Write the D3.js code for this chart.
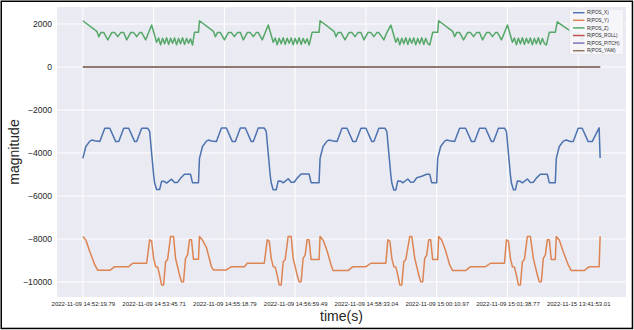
<!DOCTYPE html>
<html>
<head>
<meta charset="utf-8">
<script src="https://cdn.jsdelivr.net/npm/d3@7/dist/d3.min.js"></script>
<style>
  html, body { margin: 0; padding: 0; background: #fff; }
  svg { display: block; font-family: "Liberation Sans", Arial, sans-serif; }
</style>
</head>
<body>
<svg id="chart" width="634" height="330"></svg>
<script>
// Sample positions where each tick label sits, and the labels themselves
const tickIndex = [0, 71, 142, 213, 284, 355, 426, 497];
const tickLabels = [
  "2022-11-09 14:52:19.79", "2022-11-09 14:53:45.71", "2022-11-09 14:55:18.79",
  "2022-11-09 14:56:59.49", "2022-11-09 14:58:33.04", "2022-11-09 15:00:10.97",
  "2022-11-09 15:01:38.77", "2022-11-15 13:41:53.01"
];
const yTicks = [-10000, -8000, -6000, -4000, -2000, 0, 2000];
const lastSample = 519;

// R(POS_X): sample index / value
const posXIndex = [
  0,3,7,9,12,17,22,27,33,36,41,46,52,54,59,65,67,71,72,74,77,79,82,84,89,92,95,98,102,108,110,116,
  117,120,124,126,129,134,139,144,150,153,158,163,169,171,176,182,184,188,189,191,194,196,199,201,206,209,212,215,219,227,229,237,
  238,241,245,247,250,255,260,265,271,274,279,284,290,292,297,303,305,309,310,312,314,316,319,321,326,329,332,335,340,345,348,350,355,
  356,359,363,365,368,373,378,384,390,393,398,404,410,412,417,423,425,429,430,432,434,436,439,441,446,449,452,455,459,466,468,474,
  475,478,482,485,489,492,497,501,507,511,518,519
];
const posXValue = [
  -4250,-3700,-3450,-3400,-3430,-3470,-2850,-2850,-3470,-3470,-2850,-2850,-3470,-3470,-2850,-2850,-3000,-5020,-5400,-5700,-5700,-5320,-5330,-5400,-5220,-5370,-5370,-5180,-4990,-4990,-5380,-5380,
  -4250,-3700,-3450,-3400,-3440,-3470,-2840,-2840,-3470,-3470,-2840,-2840,-3470,-3470,-2840,-2840,-3000,-5050,-5400,-5710,-5710,-5300,-5320,-5390,-5200,-5360,-5360,-5170,-4980,-4980,-5380,-5380,
  -4250,-3700,-3450,-3400,-3430,-3470,-2850,-2850,-3470,-3470,-2850,-2850,-3470,-3470,-2850,-2850,-3000,-5030,-5400,-5720,-5720,-5300,-5310,-5390,-5210,-5360,-5350,-5150,-5080,-4990,-4990,-5380,-5380,
  -4250,-3700,-3450,-3400,-3430,-3470,-2850,-2850,-3470,-3470,-2850,-2850,-3470,-3470,-2850,-2850,-3000,-5030,-5400,-5710,-5710,-5300,-5320,-5390,-5210,-5370,-5360,-5170,-4990,-4990,-5380,-5380,
  -4250,-3700,-3450,-3400,-3470,-3470,-2850,-2850,-3470,-3470,-2830,-4230
];

// R(POS_Y)
const posYIndex = [
  0,3,7,12,15,27,32,46,50,64,67,69,71,73,75,77,79,81,83,85,88,91,93,95,97,99,101,103,105,107,109,111,116,
  117,120,124,129,131,144,149,162,165,182,185,187,189,191,193,195,197,199,201,203,206,209,211,213,215,217,219,221,223,225,227,229,237,
  238,241,245,249,251,266,271,284,289,304,306,308,310,312,314,316,318,320,322,324,328,330,333,335,337,339,341,343,345,347,349,351,356,
  357,360,364,368,371,384,389,404,409,423,425,427,429,431,433,435,437,439,441,443,446,449,452,454,456,458,460,462,464,466,468,470,474,
  475,478,482,487,490,503,508,518,519
];
const posYValue = [
  -7890,-8050,-8590,-9210,-9460,-9460,-9290,-9290,-9130,-9130,-8040,-8100,-8900,-9290,-9300,-9680,-10140,-10140,-9060,-8960,-7890,-7890,-8900,-9290,-9680,-9990,-9990,-8900,-8750,-8040,-8040,-8940,-8940,
  -7880,-8050,-8400,-9290,-9440,-9440,-9290,-9290,-9130,-9130,-8040,-8100,-8900,-9290,-9310,-9680,-10140,-10140,-9060,-8960,-7880,-7880,-8900,-9290,-9680,-9990,-9990,-8900,-8750,-8040,-8040,-8960,-8960,
  -7880,-8050,-8550,-9200,-9470,-9470,-9290,-9290,-9130,-9130,-8040,-8100,-8900,-9290,-9300,-9680,-10140,-10140,-9060,-8960,-7880,-7880,-8900,-9290,-9680,-9990,-9990,-8900,-8750,-8040,-8040,-8960,-8960,
  -7880,-8050,-8550,-9200,-9470,-9470,-9290,-9290,-9130,-9130,-8040,-8100,-8900,-9290,-9300,-9680,-10140,-10140,-9060,-8960,-7880,-7880,-8900,-9290,-9680,-9990,-9990,-8900,-8750,-8040,-8040,-8960,-8960,
  -7880,-8050,-8590,-9210,-9470,-9470,-9290,-9290,-7880
];

// R(POS_Z)
const posZIndex = [
  0,14,16,18,21,25,29,32,35,38,41,44,48,51,54,57,59,63,66,69,74,76,78,80,82,84,86,88,90,92,94,96,98,100,102,104,106,108,110,112,116,
  117,131,133,135,138,142,146,149,152,155,158,161,165,168,171,174,176,180,183,186,191,193,195,197,199,201,203,205,207,209,211,213,215,217,219,221,223,225,227,230,237,
  238,252,254,256,259,263,267,270,273,276,279,282,286,289,292,295,297,302,305,309,314,316,318,320,322,324,326,328,330,332,334,336,338,340,342,344,346,348,351,356,
  357,371,373,375,378,382,386,389,392,395,398,401,405,408,411,414,416,420,423,426,431,433,435,437,439,441,443,445,447,449,451,453,455,457,459,461,463,465,468,474,
  476,483,490,492,494,497,501,505,508,511,514,517,519
];
const posZValue = [
  2150,1660,1410,1600,1600,1260,1600,1600,1410,1600,1600,1260,1600,1600,1410,1600,1600,1260,1600,1950,1150,1350,1030,1340,1080,1360,1050,1340,1100,1350,1030,1330,1080,1360,1050,1330,1100,1310,1020,1610,1610,
  2150,1660,1410,1600,1600,1260,1600,1600,1410,1600,1600,1260,1600,1600,1410,1600,1600,1260,1600,1950,1150,1350,1030,1340,1080,1360,1050,1340,1100,1350,1030,1330,1080,1360,1050,1330,1100,1310,1020,1610,1610,
  2150,1660,1410,1600,1600,1260,1600,1600,1410,1600,1600,1260,1600,1600,1410,1600,1600,1260,1600,1950,1150,1350,1030,1340,1080,1360,1050,1340,1100,1350,1030,1330,1080,1360,1050,1330,1100,1020,1610,1610,
  2150,1660,1410,1600,1600,1260,1600,1600,1410,1600,1600,1260,1600,1600,1410,1600,1600,1260,1600,1950,1150,1350,1030,1340,1080,1360,1050,1340,1100,1350,1030,1330,1080,1360,1050,1330,1100,1020,1610,1610,
  2100,1870,1660,1410,1600,1600,1260,1600,1600,1410,1600,1600,1300
];

// Rotational components stay at zero over the run
const rotIndex = [0, 130, 260, 390, 519];
const posRollValue = [0, 0, 0, 0, 0];
const posPitchValue = [0, 0, 0, 0, 0];
const posYawValue = [0, 0, 0, 0, 0];

const seriesNames = ["R(POS_X)", "R(POS_Y)", "R(POS_Z)", "R(POS_ROLL)", "R(POS_PITCH)", "R(POS_YAW)"];
const seriesColors = ["#4c72b0", "#dd8452", "#55a868", "#c44e52", "#8172b3", "#937860"];

const series = [
  { idx: posXIndex, val: posXValue },
  { idx: posYIndex, val: posYValue },
  { idx: posZIndex, val: posZValue },
  { idx: rotIndex, val: posRollValue },
  { idx: rotIndex, val: posPitchValue },
  { idx: rotIndex, val: posYawValue }
].map((s, i) => ({
  name: seriesNames[i],
  color: seriesColors[i],
  points: s.idx.map((t, k) => [t, s.val[k]])
}));

const svg = d3.select("#chart");
const plot = { left: 57, right: 626, top: 7, bottom: 297 };

// 5% padding around the data extent on each axis
const xPad = lastSample * 0.05;
const x = d3.scaleLinear().domain([-xPad, lastSample + xPad]).range([plot.left, plot.right]);
const y = d3.scaleLinear().domain([-10700, 2790]).range([plot.bottom, plot.top]);

// Outer frame
svg.append("rect").attr("x", 1.25).attr("y", 1.25).attr("width", 631.2).attr("height", 327.2)
  .attr("fill", "#fff").attr("stroke", "#000").attr("stroke-width", 1.5);

// Plot background
svg.append("rect").attr("x", plot.left).attr("y", plot.top)
  .attr("width", plot.right - plot.left).attr("height", plot.bottom - plot.top)
  .attr("fill", "#eaeaf2");

// Grid
const grid = svg.append("g").attr("stroke", "#fff").attr("stroke-width", 1);
grid.selectAll("line.gx").data(tickIndex).join("line")
  .attr("x1", d => x(d)).attr("x2", d => x(d)).attr("y1", plot.top).attr("y2", plot.bottom);
grid.selectAll("line.gy").data(yTicks).join("line")
  .attr("x1", plot.left).attr("x2", plot.right).attr("y1", d => y(d)).attr("y2", d => y(d));

// Axes
const xAxis = d3.axisBottom(x).tickValues(tickIndex).tickFormat((d, i) => tickLabels[i]).tickSize(0).tickPadding(5);
const gx = svg.append("g").attr("transform", `translate(0,${plot.bottom})`).call(xAxis);
gx.select(".domain").remove();
gx.selectAll("text").attr("font-size", 6).attr("fill", "#262626")
  .attr("font-family", "'Liberation Sans', Arial, sans-serif");

const yAxis = d3.axisLeft(y).tickValues(yTicks).tickFormat(d => d < 0 ? "\u2212" + Math.abs(d) : String(d)).tickSize(0).tickPadding(5);
const gy = svg.append("g").attr("transform", `translate(${plot.left},0)`).call(yAxis);
gy.select(".domain").remove();
gy.selectAll("text").attr("font-size", 8.6).attr("fill", "#262626")
  .attr("font-family", "'Liberation Sans', Arial, sans-serif");

// Series lines
const line = d3.line().x(d => x(d[0])).y(d => y(d[1]));
svg.append("g").attr("fill", "none").attr("stroke-width", 1.5).attr("stroke-linejoin", "round")
  .selectAll("path").data(series).join("path")
  .attr("stroke", d => d.color).attr("d", d => line(d.points));

// Axis titles
svg.append("text").attr("x", (plot.left + plot.right) / 2).attr("y", 321)
  .attr("text-anchor", "middle").attr("font-size", 14).attr("fill", "#262626").text("time(s)");
svg.append("text").attr("transform", `translate(19,${(plot.top + plot.bottom) / 2}) rotate(-90)`)
  .attr("text-anchor", "middle").attr("font-size", 14).attr("fill", "#262626").text("magnitude");

// Legend
const lg = svg.append("g").attr("transform", "translate(569.5,9.5)");
lg.append("rect").attr("width", 54).attr("height", 45).attr("rx", 1.5)
  .attr("fill", "#eaeaf2").attr("fill-opacity", 0.8).attr("stroke", "#d8d8d8").attr("stroke-width", 0.6);
lg.append("rect").attr("width", 54).attr("height", 45).attr("rx", 1.5)
  .attr("fill", "#fff").attr("fill-opacity", 0.55);
const rows = lg.selectAll("g.row").data(series).join("g")
  .attr("transform", (d, i) => `translate(0,${3.2 + i * 7.6})`);
rows.append("line").attr("x1", 3.5).attr("x2", 15).attr("y1", 0).attr("y2", 0)
  .attr("stroke", d => d.color).attr("stroke-width", 1.5);
rows.append("text").attr("x", 17.5).attr("y", 1.7).attr("font-size", 4.6).attr("fill", "#262626")
  .text(d => d.name);
</script>
</body>
</html>
